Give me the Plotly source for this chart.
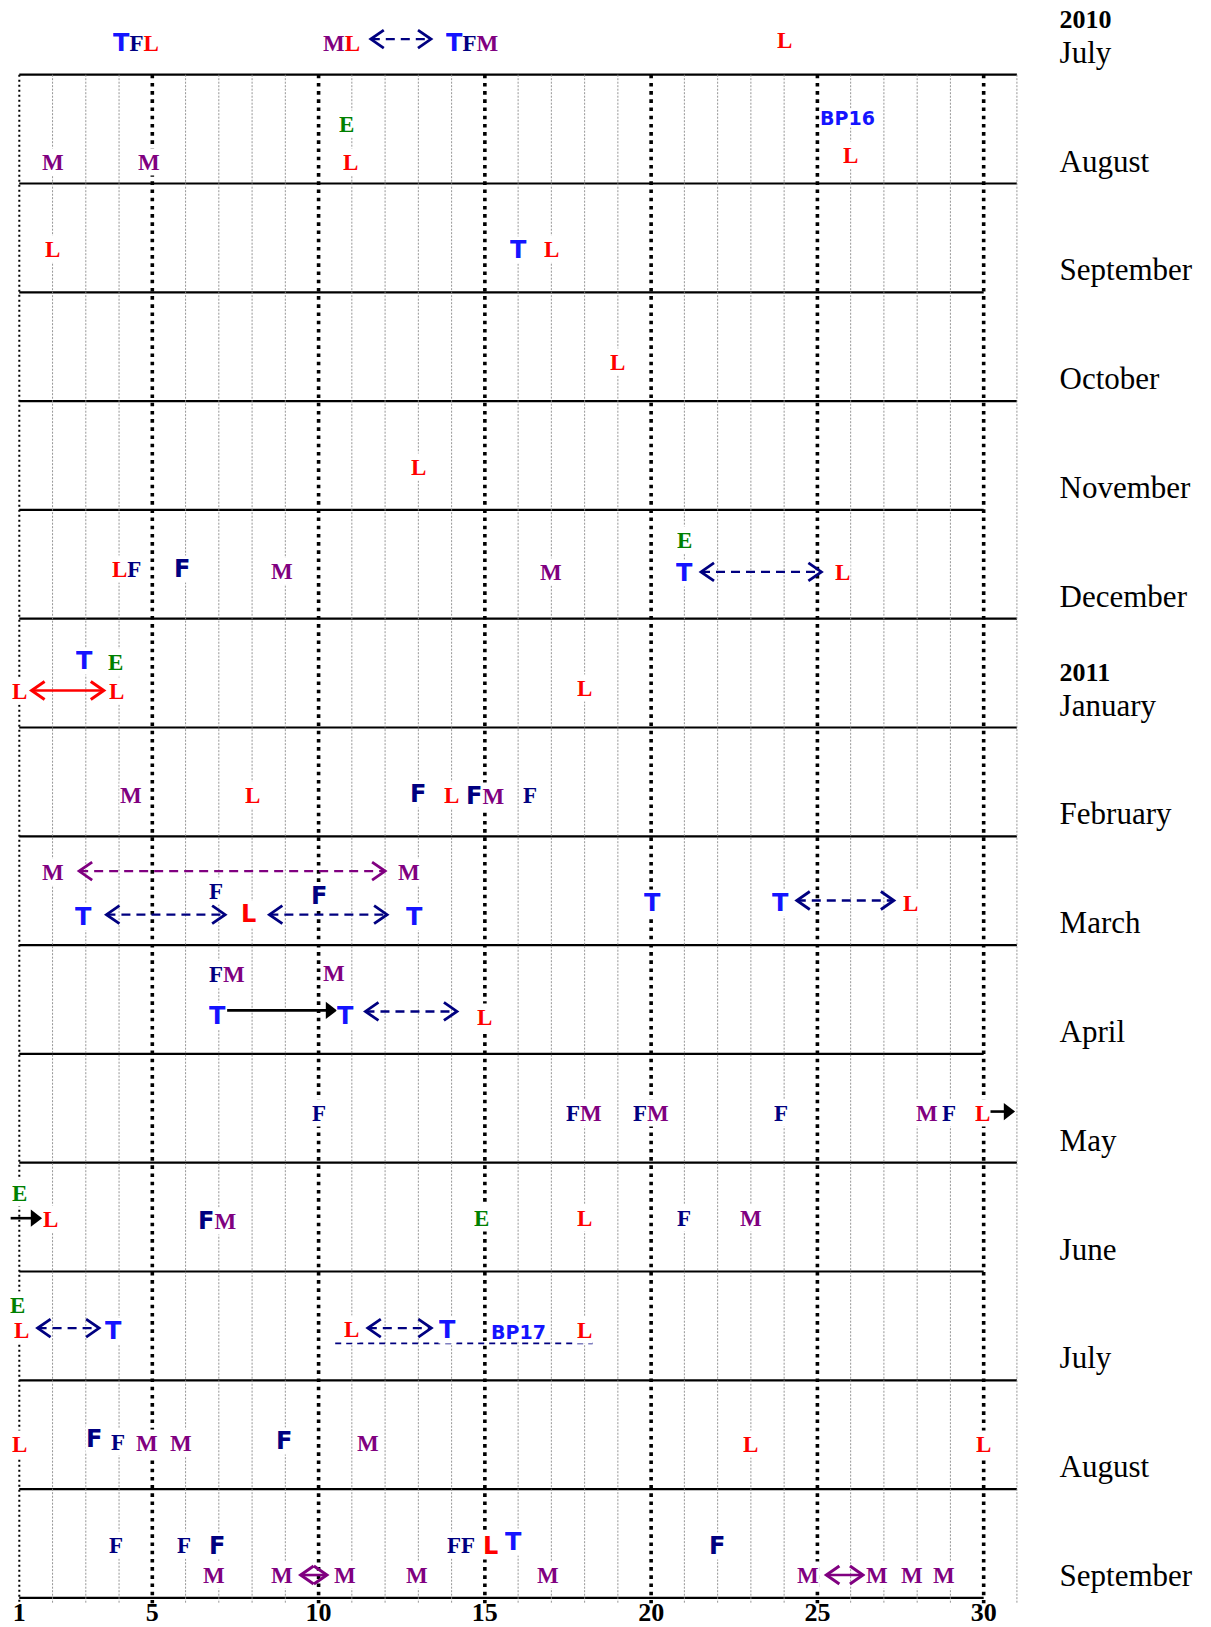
import plotly.graph_objects as go

# ------------------------------------------------------------------ data
MONTHS = ["July", "August", "September", "October", "November", "December",
          "January", "February", "March", "April", "May", "June",
          "July", "August", "September"]
YEARS = ["2010", "", "", "", "", "", "2011", "", "", "", "", "", "", "", ""]
DAYS_DRAWN = [31, 31, 30, 31, 30, 31, 31, 31, 31, 30, 31, 30, 31, 31, 30]
TICK_DAYS = [1, 5, 10, 15, 20, 25, 30]
MAJOR_DAYS = [5, 10, 15, 20, 25, 30]
MINOR_DAYS = [d for d in range(2, 32) if d % 5 != 0]

# events: month row, day, letters, level inside the row (0 = top, 1 = bottom)
EV_ROW = [0, 0, 0, 0,
          1, 1, 1, 1, 1, 1,
          2, 2, 2,
          3,
          4,
          5, 5, 5, 5, 5, 5, 5,
          6, 6, 6, 6, 6,
          7, 7, 7, 7, 7, 7,
          8, 8, 8, 8, 8, 8, 8, 8, 8, 8,
          9, 9, 9, 9, 9,
          10, 10, 10, 10, 10, 10, 10,
          11, 11, 11, 11, 11, 11, 11,
          12, 12, 12, 12, 12, 12, 12,
          13, 13, 13, 13, 13, 13, 13, 13, 13,
          14, 14, 14, 14, 14, 14, 14, 14, 14, 14, 14, 14, 14, 14, 14, 14]
EV_DAY = [4.5, 10.7, 14.6, 24.0,
          2.0, 4.9, 10.85, 10.95, 25.9, 26.0,
          2.0, 16.0, 17.0,
          19.0,
          13.0,
          4.22, 5.9, 8.9, 17.0, 21.0, 21.0, 25.75,
          1.0, 3.93, 2.95, 3.9, 18.0,
          4.37, 8.0, 13.0, 14.0, 15.0, 16.37,
          2.0, 12.72, 6.9, 10.0, 2.92, 7.9, 12.88, 20.05, 23.9, 27.8,
          7.26, 10.45, 6.96, 10.8, 15.0,
          10.0, 17.97, 20.0, 23.9, 28.3, 28.97, 29.97,
          1.0, 1.94, 6.96, 14.9, 18.0, 21.0, 23.0,
          0.94, 1.07, 3.84, 11.0, 13.88, 16.0, 18.0,
          1.0, 3.24, 3.97, 4.85, 5.86, 8.96, 11.49, 23.0, 30.0,
          3.91, 5.94, 6.96, 6.85, 8.9, 10.8, 12.96, 14.27, 15.17, 15.86, 16.89,
          21.97, 24.72, 26.8, 27.85, 28.8]
EV_CODE = ["TFL", "ML", "TFM", "L",
           "M", "M", "E", "L", "BP16", "L",
           "L", "T", "L",
           "L",
           "L",
           "LF", "f", "M", "M", "E", "T", "L",
           "L", "L", "T", "E", "L",
           "M", "L", "f", "L", "fM", "F",
           "M", "M", "F", "f", "T", "l", "T", "T", "T", "L",
           "FM", "M", "T", "T", "L",
           "F", "FM", "FM", "F", "M", "F", "L",
           "E", "L", "fM", "E", "L", "F", "M",
           "E", "L", "T", "L", "T", "BP17", "L",
           "L", "f", "F", "M", "M", "f", "M", "L", "L",
           "F", "F", "f", "M", "M", "M", "M", "FF", "l", "T", "M",
           "f", "M", "M", "M", "M"]
EV_LEVEL = [0.71, 0.71, 0.71, 0.68,
            0.80, 0.80, 0.45, 0.80, 0.40, 0.74,
            0.60, 0.61, 0.60,
            0.64,
            0.61,
            0.54, 0.54, 0.56, 0.57, 0.28, 0.58, 0.57,
            0.66, 0.66, 0.39, 0.40, 0.64,
            0.62, 0.62, 0.61, 0.62, 0.63, 0.62,
            0.33, 0.33, 0.50, 0.55, 0.74, 0.71, 0.74, 0.61, 0.61, 0.61,
            0.27, 0.26, 0.65, 0.65, 0.66,
            0.54, 0.54, 0.54, 0.54, 0.54, 0.54, 0.54,
            0.28, 0.52, 0.54, 0.51, 0.51, 0.51, 0.51,
            0.31, 0.54, 0.55, 0.53, 0.54, 0.56, 0.54,
            0.59, 0.54, 0.57, 0.58, 0.58, 0.56, 0.58, 0.59, 0.59,
            0.51, 0.51, 0.52, 0.79, 0.79, 0.79, 0.79, 0.51, 0.52, 0.49, 0.79,
            0.52, 0.79, 0.79, 0.79, 0.79]

# arrows / links between events
AR_ROW = [0, 5, 6, 8, 8, 8, 8, 9, 9, 10, 11, 12, 12, 12, 14, 14]
AR_FROM = [11.57, 21.5, 1.37, 2.8, 3.62, 8.52, 24.38, 7.25, 11.41, 30.13, 0.74,
           1.55, 11.48, 10.5, 9.46, 25.27]
AR_TO = [13.38, 25.12, 3.54, 12.0, 7.19, 12.06, 27.3, 10.51, 14.16, 30.9, 1.64,
         3.4, 13.39, 18.24, 10.25, 26.37]
AR_LEVEL = [0.673, 0.57, 0.66, 0.32, 0.72, 0.72, 0.59, 0.60, 0.61, 0.53, 0.51,
            0.52, 0.52, 0.66, 0.79, 0.79]
AR_KIND = ["navy2", "navy2", "red2", "purple2d", "navy2", "navy2", "navy2",
           "black1", "navy2", "black1", "black1",
           "navy2", "navy2", "navyline", "purple2", "purple2"]

# ------------------------------------------------------------------ style
W, H = 1211, 1627
PX_DAY = 33.254          # pixels per day
PX_ROW = 108.8           # pixels per month row
X_DAY1 = 19.3            # pixel of day 1
Y_LINE0 = 74.7           # pixel of the first ruled line
X_RANGE = [1 - X_DAY1 / PX_DAY, 1 + (W - X_DAY1) / PX_DAY]
Y_RANGE = [(H - Y_LINE0) / PX_ROW, -Y_LINE0 / PX_ROW]
LABEL_X = 1 + (1059.6 - X_DAY1) / PX_DAY
V_BOTTOM = 14.05
TICK_Y = (1614 - Y_LINE0) / PX_ROW
MONTH_OFF = 0.18
YEAR_OFF = 0.31

SERIF = "Liberation Serif"
HAND = "DejaVu Sans"
STYLE = {
    "T": ("#1414ff", HAND, 24),
    "F": ("#000080", SERIF, 23),
    "f": ("#000080", HAND, 24),
    "L": ("#ff0000", SERIF, 23),
    "l": ("#ff0000", HAND, 24),
    "M": ("#800080", SERIF, 23),
    "E": ("#008000", SERIF, 23),
    "BP": ("#1414ff", HAND, 19),
}
BOX_H = {"BP": 18, "other": 26}
ARROW_STYLE = {
    "navy2": ("#000080", "9px,6px", 2.4, "double"),
    "purple2d": ("#800080", "9px,6px", 2.4, "double"),
    "red2": ("#ff0000", "solid", 2.6, "double"),
    "purple2": ("#800080", "solid", 2.6, "double"),
    "black1": ("#000000", "solid", 2.6, "single"),
    "navyline": ("#000080", "6px,5px", 1.8, "none"),
}


def span(key, txt):
    col, fam, size = STYLE[key]
    return (f'<span style="color:{col};font-family:{fam};font-size:{size}px;'
            f'font-weight:bold">{txt}</span>')


def label_html(code):
    if code.startswith("BP"):
        return span("BP", code)
    return "".join(span(c, c.upper()) for c in code)


def row_y(row, level):
    return row - 1 + level


fig = go.Figure()

# horizontal ruled lines
hx, hy = [], []
for k, dmax in enumerate(DAYS_DRAWN):
    hx += [1, dmax, None]
    hy += [k, k, None]
fig.add_trace(go.Scatter(x=hx, y=hy, mode="lines",
                         line=dict(color="black", width=2.2)))


def vlines(days):
    xs, ys = [], []
    for d in days:
        xs += [d, d, None]
        ys += [0, V_BOTTOM, None]
    return xs, ys


vx, vy = vlines(MINOR_DAYS)
fig.add_trace(go.Scatter(x=vx, y=vy, mode="lines",
                         line=dict(color="#8a8a8a", width=0.9, dash="2px,1.5px")))
vx, vy = vlines([1])
fig.add_trace(go.Scatter(x=vx, y=vy, mode="lines",
                         line=dict(color="black", width=2, dash="2px,3px")))
vx, vy = vlines(MAJOR_DAYS)
fig.add_trace(go.Scatter(x=vx, y=vy, mode="lines",
                         line=dict(color="black", width=3.6, dash="3.6px,4.6px")))

# arrows
HEAD_DX = 13 / PX_DAY
HEAD_DY = 9 / PX_ROW
TRI_OFF = 6 / PX_DAY
for r, x0, x1, lv, kind in zip(AR_ROW, AR_FROM, AR_TO, AR_LEVEL, AR_KIND):
    col, dash, wid, heads = ARROW_STYLE[kind]
    y = row_y(r, lv)
    if heads == "single":
        fig.add_trace(go.Scatter(x=[x0, x1 - TRI_OFF], y=[y, y], mode="lines",
                                 line=dict(color=col, width=wid)))
        fig.add_trace(go.Scatter(x=[x1 - TRI_OFF], y=[y], mode="markers",
                                 marker=dict(symbol="triangle-right", size=15,
                                             color=col, line=dict(width=0))))
        continue
    fig.add_trace(go.Scatter(x=[x0, x1], y=[y, y], mode="lines",
                             line=dict(color=col, width=wid, dash=dash)))
    if heads == "double":
        cx = [x0 + HEAD_DX, x0, x0 + HEAD_DX, None, x1 - HEAD_DX, x1, x1 - HEAD_DX]
        cy = [y - HEAD_DY, y, y + HEAD_DY, None, y - HEAD_DY, y, y + HEAD_DY]
        fig.add_trace(go.Scatter(x=cx, y=cy, mode="lines",
                                 line=dict(color=col, width=wid + 0.4)))

# event letters (white text boxes hide the grid behind them)
annotations = []
for r, d, code, lv in zip(EV_ROW, EV_DAY, EV_CODE, EV_LEVEL):
    annotations.append(dict(
        x=d, y=row_y(r, lv), xref="x", yref="y",
        text=label_html(code), showarrow=False,
        xanchor="center", yanchor="middle",
        font=dict(family=SERIF, size=23, color="black"),
        bgcolor="white", borderpad=0,
        height=BOX_H["BP" if code.startswith("BP") else "other"],
    ))

# month & year labels
fig.add_trace(go.Scatter(
    x=[LABEL_X] * len(MONTHS),
    y=[k - MONTH_OFF for k in range(len(MONTHS))],
    mode="text", text=MONTHS, textposition="middle right",
    textfont=dict(family=SERIF, size=31, color="black"),
))
yr_rows = [k for k, y in enumerate(YEARS) if y]
fig.add_trace(go.Scatter(
    x=[LABEL_X] * len(yr_rows),
    y=[k - MONTH_OFF - YEAR_OFF for k in yr_rows],
    mode="text", text=[f"<b>{YEARS[k]}</b>" for k in yr_rows],
    textposition="middle right",
    textfont=dict(family=SERIF, size=26, color="black"),
))

# day tick labels
fig.add_trace(go.Scatter(
    x=TICK_DAYS, y=[TICK_Y] * len(TICK_DAYS), mode="text",
    text=[f"<b>{d}</b>" for d in TICK_DAYS], textposition="middle center",
    textfont=dict(family=SERIF, size=26, color="black"),
))

fig.update_layout(
    width=W, height=H,
    margin=dict(l=0, r=0, t=0, b=0),
    paper_bgcolor="white", plot_bgcolor="white",
    showlegend=False, hovermode=False,
    xaxis=dict(range=X_RANGE, visible=False, fixedrange=True),
    yaxis=dict(range=Y_RANGE, visible=False, fixedrange=True),
    annotations=annotations,
)

fig.write_html(
    "out.html",
    config={"displayModeBar": False},
    post_script="document.body.style.margin='0';document.body.style.overflow='hidden';",
)
